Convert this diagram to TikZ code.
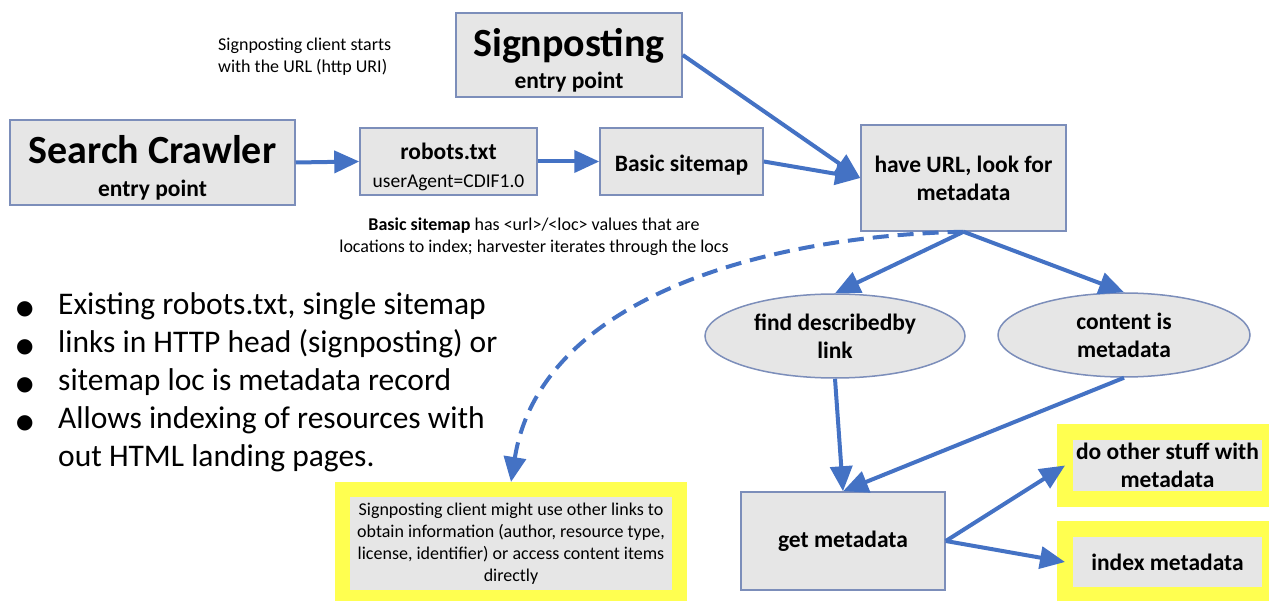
\documentclass[tikz,border=0pt]{standalone}
\usepackage{fontspec}
\setmainfont{Carlito}
\newfontfamily\bulletfont{DejaVu Sans}
\usetikzlibrary{arrows.meta,shapes.geometric}
\definecolor{flowblue}{RGB}{68,114,196}
\definecolor{boxgray}{RGB}{230,230,230}
\definecolor{boxedge}{RGB}{124,142,186}
\definecolor{noteyellow}{RGB}{255,255,80}
\newcommand\titlefs{\fontsize{40}{44}\selectfont}
\newcommand\labelfs{\fontsize{23.5}{28}\selectfont}
\newcommand\codefs{\fontsize{19.5}{23}\selectfont}
\newcommand\notefs{\fontsize{18}{22}\selectfont}
\newcommand\listfs{\fontsize{31.5}{38}\selectfont}
\newcommand\listmark{\makebox[42pt][l]{\bulletfont\fontsize{20}{20}\selectfont ●}}

\begin{document}
\begin{tikzpicture}[x=1pt,y=-1pt,
  box/.style={draw=boxedge,line width=1.5pt,fill=boxgray,align=center,inner sep=0pt,font=\labelfs\bfseries},
  oval/.style={ellipse,draw=boxedge,line width=1.5pt,fill=boxgray,align=center,inner sep=0pt,font=\labelfs\bfseries},
  note/.style={draw=noteyellow,fill=boxgray,align=center,inner sep=0pt},
  flow/.style={draw=flowblue,line width=4pt,-{Triangle[length=25pt,width=22pt]}},
  hint/.style={align=center,inner sep=0pt,font=\notefs}]
\useasboundingbox (0,0) rectangle (1269,601);
% entry points
\node[box,minimum width=285,minimum height=85] (crawler) at (152.5,162.5)
  {\rule{0pt}{38pt}{\titlefs Search Crawler}\\[5pt]entry point};
\node[box,minimum width=226,minimum height=84] (signpost) at (569,55)
  {\rule{0pt}{39pt}{\titlefs Signposting}\\[4pt]entry point};
\node[box,minimum width=177,minimum height=67] (robots) at (448.5,161.5)
  {\rule{0pt}{28pt}robots.txt\\{\codefs\mdseries userAgent=CDIF1.0}};
\node[box,minimum width=163,minimum height=67] (sitemap) at (681.5,161.5) {\rule{0pt}{24pt}Basic sitemap};
\node[box,minimum width=205,minimum height=106] (url) at (963.5,178) {have URL, look for\\metadata};
\node[oval,minimum width=260,minimum height=84] (find) at (835,336) {find describedby\\link};
\node[oval,minimum width=252,minimum height=84] (content) at (1124,335) {content is\\metadata};
\node[box,minimum width=204,minimum height=98] (get) at (843,541) {get metadata};
% yellow outcomes
\node[note,line width=16pt,outer sep=0pt,minimum width=205,minimum height=67,font=\labelfs\bfseries]
  (other) at (1167.5,465.5) {do other stuff with\\metadata};
\node[note,line width=16pt,outer sep=0pt,minimum width=205,minimum height=66,font=\labelfs\bfseries]
  (index) at (1167.5,562) {index metadata};
\node[note,line width=15pt,minimum width=337,minimum height=108,font=\notefs]
  (client) at (511,543.5) {Signposting client might use other links to\\obtain information (author, resource type,\\license, identifier) or access content items\\directly};
% free texts
\node[hint,align=left,anchor=north west] (start) at (218,38) {Signposting client starts\\with the URL (http URI)};
\node[hint] (sitenote) at (534,237) {\textbf{Basic sitemap} has <url>/<loc> values that are\\locations to index; harvester iterates through the locs};
\node[align=left,anchor=north west,inner sep=0pt,font=\listfs] (points) at (16,292)
  {\listmark Existing robots.txt, single sitemap\\
   \listmark links in HTTP head (signposting) or\\
   \listmark sitemap loc is metadata record\\
   \listmark Allows indexing of resources with\\
   \hspace*{42pt}out HTML landing pages.};
% connectors
\draw[flow] (crawler.east) -- (robots.west);
\draw[flow] (robots.east) -- (sitemap.west);
\draw[flow] (sitemap.east) -- (url.west);
\draw[flow] (signpost.east) -- (url.west);
\draw[flow] (url.south) -- (find.north);
\draw[flow] (url.south) -- (content.north);
\draw[flow] (find.south) -- (get.north);
\draw[flow] (content.south) -- (get.north);
\draw[flow] (get.east) -- (other.west);
\draw[flow] (get.east) -- (index.west);
\draw[flow,dash pattern=on 16pt off 9pt] (url.south) .. controls (760,236) and (540,300) .. (client.north);
\end{tikzpicture}
\end{document}
